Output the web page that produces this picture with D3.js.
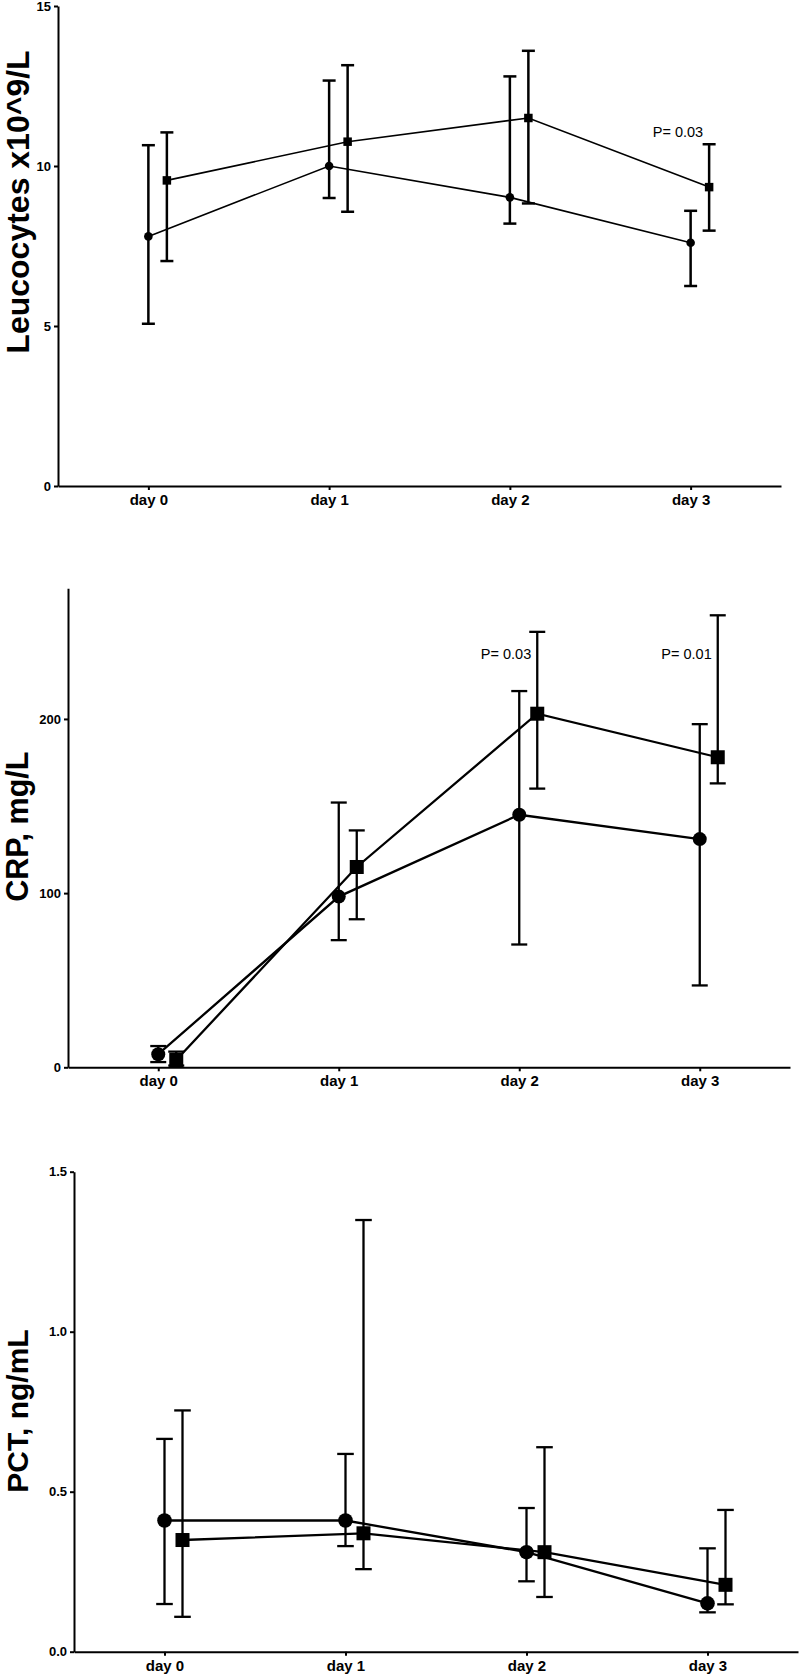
<!DOCTYPE html>
<html>
<head>
<meta charset="utf-8">
<script src="https://cdnjs.cloudflare.com/ajax/libs/d3/7.8.5/d3.min.js"></script>
<style>
    body { margin: 0; background: #fff; }
    svg text { font-family: Arial, "Liberation Sans", Helvetica, sans-serif; fill: #000; }
</style>
</head>
<body>
<svg id="chart" width="799" height="1675"></svg>
<script>
"use strict";

var Days = ["day 0", "day 1", "day 2", "day 3"];

// Leucocytes, x10^9/L
var LeuTicks = [0, 5, 10, 15];
var LeuCircleMean = [7.8, 10.0, 9.02, 7.6];
var LeuCircleLow = [5.07, 9.0, 8.2, 6.25];
var LeuCircleHigh = [10.65, 12.67, 12.8, 8.6];
var LeuSquareMean = [9.55, 10.76, 11.5, 9.34];
var LeuSquareLow = [7.03, 8.57, 8.83, 7.98];
var LeuSquareHigh = [11.05, 13.15, 13.6, 10.68];
var LeuPValues = [{day: "day 3", text: "P= 0.03", at: 10.9}];

// CRP, mg/L
var CrpTicks = [0, 100, 200];
var CrpCircleMean = [7.5, 98, 145, 131];
var CrpCircleLow = [3, 73, 70.5, 47];
var CrpCircleHigh = [12.2, 152, 216, 197];
var CrpSquareMean = [4.2, 115, 203, 178];
var CrpSquareLow = [1, 85, 160, 163];
var CrpSquareHigh = [9, 136, 250, 259.5];
var CrpPValues = [
    {day: "day 2", text: "P= 0.03", at: 234.5},
    {day: "day 3", text: "P= 0.01", at: 234.5}
];

// PCT, ng/mL
var PctTicks = [0, 0.5, 1.0, 1.5];
var PctCircleMean = [0.41, 0.41, 0.311, 0.151];
var PctCircleLow = [0.149, 0.33, 0.22, 0.123];
var PctCircleHigh = [0.665, 0.618, 0.449, 0.323];
var PctSquareMean = [0.349, 0.37, 0.311, 0.209];
var PctSquareLow = [0.109, 0.258, 0.171, 0.148];
var PctSquareHigh = [0.754, 1.349, 0.639, 0.443];

var Panels = [
    {
        title: "Leucocytes x10^9/L", ticks: LeuTicks, format: d3.format("d"), max: 15,
        circle: [LeuCircleMean, LeuCircleLow, LeuCircleHigh],
        square: [LeuSquareMean, LeuSquareLow, LeuSquareHigh],
        pValues: LeuPValues,
        left: 58, right: 781, top: 6, bottom: 486,
        labelX: 29, labelY: 202, labelSize: 32,
        r: 4.3, side: 8.5, lineW: 1.6, barW: 2.5, cap: 6.5, shift: 18.5
    },
    {
        title: "CRP, mg/L", ticks: CrpTicks, format: d3.format("d"), max: 275,
        circle: [CrpCircleMean, CrpCircleLow, CrpCircleHigh],
        square: [CrpSquareMean, CrpSquareLow, CrpSquareHigh],
        pValues: CrpPValues,
        left: 68, right: 790, top: 588.3, bottom: 1067.3,
        labelX: 28, labelY: 826.7, labelSize: 30.5,
        r: 7, side: 14, lineW: 2.3, barW: 2.3, cap: 8, shift: 18
    },
    {
        title: "PCT, ng/mL", ticks: PctTicks, format: d3.format(".1f"), max: 1.5,
        circle: [PctCircleMean, PctCircleLow, PctCircleHigh],
        square: [PctSquareMean, PctSquareLow, PctSquareHigh],
        pValues: [],
        left: 74, right: 798, top: 1171.7, bottom: 1651.7,
        labelX: 27.5, labelY: 1411, labelSize: 30,
        r: 7.3, side: 14, lineW: 2.3, barW: 2.3, cap: 8.3, shift: 18
    }
];

var svg = d3.select("#chart");

Panels.forEach(drawPanel);

function drawPanel(p) {
    var g = svg.append("g");

    var x = d3.scalePoint().domain(Days).range([p.left, p.right]).padding(0.5);
    var y = d3.scaleLinear().domain([0, p.max]).range([p.bottom, p.top]);

    var yAxis = g.append("g")
        .attr("transform", "translate(" + p.left + ",0)")
        .call(d3.axisLeft(y).tickValues(p.ticks).tickFormat(p.format)
            .tickSize(4).tickPadding(3).tickSizeOuter(0));
    var xAxis = g.append("g")
        .attr("transform", "translate(0," + p.bottom + ")")
        .call(d3.axisBottom(x).tickSize(4).tickPadding(4.5).tickSizeOuter(0));

    [yAxis, xAxis].forEach(function (a) {
        a.select(".domain").attr("stroke", "#000").attr("stroke-width", 2);
        a.selectAll(".tick line").attr("stroke", "#000").attr("stroke-width", 2);
        a.selectAll(".tick text")
            .attr("fill", "#000")
            .style("font-weight", "bold");
    });
    yAxis.selectAll(".tick text").style("font-size", "13px");
    xAxis.selectAll(".tick text").style("font-size", "15px");

    g.append("text")
        .attr("transform", "translate(" + p.labelX + "," + p.labelY + ") rotate(-90)")
        .attr("text-anchor", "middle")
        .style("font-weight", "bold")
        .style("font-size", p.labelSize + "px")
        .text(p.title);

    drawSeries(g, p, x, y, p.circle, 0, "circle");
    drawSeries(g, p, x, y, p.square, p.shift, "square");

    g.selectAll("text.pval")
        .data(p.pValues)
        .enter()
        .append("text")
        .attr("class", "pval")
        .attr("x", function (d) { return x(d.day) + p.shift - 6; })
        .attr("y", function (d) { return y(d.at); })
        .attr("text-anchor", "end")
        .style("font-size", "14.5px")
        .text(function (d) { return d.text; });
}

function drawSeries(g, p, x, y, series, shift, shape) {
    var rows = Days.map(function (day, i) {
        return {day: day, mean: series[0][i], low: series[1][i], high: series[2][i]};
    });
    var cx = function (d) { return x(d.day) + shift; };

    var line = d3.line()
        .x(cx)
        .y(function (d) { return y(d.mean); });

    g.append("path")
        .datum(rows)
        .attr("d", line)
        .attr("fill", "none")
        .attr("stroke", "#000")
        .attr("stroke-width", p.lineW);

    var bars = g.append("g")
        .attr("stroke", "#000")
        .attr("stroke-width", p.barW)
        .selectAll("g")
        .data(rows)
        .enter()
        .append("g");

    bars.append("line")
        .attr("x1", cx).attr("x2", cx)
        .attr("y1", function (d) { return y(d.low); })
        .attr("y2", function (d) { return y(d.high); });
    bars.append("line")
        .attr("x1", function (d) { return cx(d) - p.cap; })
        .attr("x2", function (d) { return cx(d) + p.cap; })
        .attr("y1", function (d) { return y(d.high); })
        .attr("y2", function (d) { return y(d.high); });
    bars.append("line")
        .attr("x1", function (d) { return cx(d) - p.cap; })
        .attr("x2", function (d) { return cx(d) + p.cap; })
        .attr("y1", function (d) { return y(d.low); })
        .attr("y2", function (d) { return y(d.low); });

    var markers = g.append("g").attr("fill", "#000");

    if (shape === "circle") {
        markers.selectAll("circle")
            .data(rows)
            .enter()
            .append("circle")
            .attr("cx", cx)
            .attr("cy", function (d) { return y(d.mean); })
            .attr("r", p.r);
    } else {
        markers.selectAll("rect")
            .data(rows)
            .enter()
            .append("rect")
            .attr("x", function (d) { return cx(d) - p.side / 2; })
            .attr("y", function (d) { return y(d.mean) - p.side / 2; })
            .attr("width", p.side)
            .attr("height", p.side);
    }
}
</script>
</body>
</html>
